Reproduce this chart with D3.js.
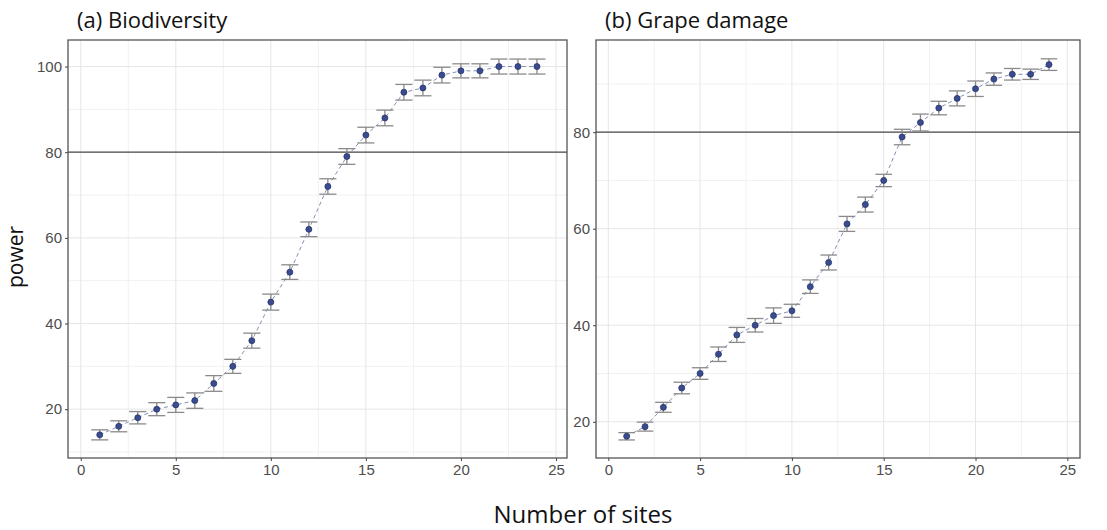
<!DOCTYPE html>
<html>
<head>
<meta charset="utf-8">
<script src="https://cdn.jsdelivr.net/npm/d3@7"></script>
<style>
  html, body { margin: 0; padding: 0; background: #fff; }
  svg { display: block; }
</style>
</head>
<body>
<svg id="chart" width="1107" height="530"></svg>
<script>
// Number of sites (shared by both panels)
const sites = d3.range(1, 25);

// (a) Biodiversity: estimated power and error half-width
const bioPower = [14, 16, 18, 20, 21, 22, 26, 30, 36, 45, 52, 62, 72, 79, 84, 88, 94, 95, 98, 99, 99, 100, 100, 100];
const bioErr   = [1.17, 1.28, 1.44, 1.52, 1.75, 1.8, 1.83, 1.64, 1.75, 1.87, 1.71, 1.71, 1.8, 1.83, 1.83, 1.83, 1.83, 1.83, 1.83, 1.64, 1.64, 1.75, 1.75, 1.75];

// (b) Grape damage: estimated power and error half-width
const grapePower = [17, 19, 23, 27, 30, 34, 38, 40, 42, 43, 48, 53, 61, 65, 70, 79, 82, 85, 87, 89, 91, 92, 92, 94];
const grapeErr   = [0.76, 0.93, 1.03, 1.2, 1.2, 1.5, 1.55, 1.4, 1.6, 1.35, 1.4, 1.55, 1.55, 1.55, 1.28, 1.6, 1.75, 1.4, 1.55, 1.6, 1.28, 1.2, 1.07, 1.2];

// Axis ticks
const xTicks = [0, 5, 10, 15, 20, 25];
const xMinor = [2.5, 7.5, 12.5, 17.5, 22.5];
const bioTicks = [20, 40, 60, 80, 100];
const bioMinor = [10, 30, 50, 70, 90];
const grapeTicks = [20, 40, 60, 80];
const grapeMinor = [30, 50, 70, 90];

const threshold = 80;

const svg = d3.select("#chart");

const TEXT_FONT = "'Open Sans', 'Noto Sans', sans-serif";
const TICK_FONT = "'Liberation Sans', Arial, sans-serif";

function drawPanel(opt) {
  const { left, right, top, bottom, xDomain, yDomain, power, err, title, yTicks, yMinor } = opt;
  const x = d3.scaleLinear().domain(xDomain).range([left, right]);
  const y = d3.scaleLinear().domain(yDomain).range([bottom, top]);
  const g = svg.append("g");

  // grid lines (minor then major)
  const grid = g.append("g").attr("fill", "none");
  grid.selectAll(".vminor").data(xMinor).join("line")
    .attr("x1", d => x(d)).attr("x2", d => x(d)).attr("y1", top).attr("y2", bottom)
    .attr("stroke", "#f1f1f1").attr("stroke-width", 1);
  grid.selectAll(".hminor").data(yMinor).join("line")
    .attr("y1", d => y(d)).attr("y2", d => y(d)).attr("x1", left).attr("x2", right)
    .attr("stroke", "#f1f1f1").attr("stroke-width", 1);
  grid.selectAll(".vmajor").data(xTicks).join("line")
    .attr("x1", d => x(d)).attr("x2", d => x(d)).attr("y1", top).attr("y2", bottom)
    .attr("stroke", "#e6e6e6").attr("stroke-width", 1);
  grid.selectAll(".hmajor").data(yTicks).join("line")
    .attr("y1", d => y(d)).attr("y2", d => y(d)).attr("x1", left).attr("x2", right)
    .attr("stroke", "#e6e6e6").attr("stroke-width", 1);

  // 80% power reference line
  g.append("line")
    .attr("x1", left).attr("x2", right)
    .attr("y1", y(threshold)).attr("y2", y(threshold))
    .attr("stroke", "#4a4a4a").attr("stroke-width", 1.3);

  const pts = sites.map((s, i) => ({ s, p: power[i], e: err[i] }));

  // dashed connecting line
  g.append("path").datum(pts)
    .attr("fill", "none")
    .attr("stroke", "#8390b4")
    .attr("stroke-width", 1)
    .attr("stroke-dasharray", "4,3")
    .attr("d", d3.line().x(d => x(d.s)).y(d => y(d.p)));

  // error bars
  const capHalf = 0.45;
  const eb = g.append("g").attr("stroke", "#8a8a8a").attr("stroke-width", 1.3);
  eb.selectAll(".stem").data(pts).join("line")
    .attr("x1", d => x(d.s)).attr("x2", d => x(d.s))
    .attr("y1", d => y(d.p - d.e)).attr("y2", d => y(d.p + d.e));
  eb.selectAll(".capTop").data(pts).join("line")
    .attr("x1", d => x(d.s - capHalf)).attr("x2", d => x(d.s + capHalf))
    .attr("y1", d => y(d.p + d.e)).attr("y2", d => y(d.p + d.e));
  eb.selectAll(".capBot").data(pts).join("line")
    .attr("x1", d => x(d.s - capHalf)).attr("x2", d => x(d.s + capHalf))
    .attr("y1", d => y(d.p - d.e)).attr("y2", d => y(d.p - d.e));

  // points
  g.append("g").selectAll("circle").data(pts).join("circle")
    .attr("cx", d => x(d.s)).attr("cy", d => y(d.p))
    .attr("r", 3)
    .attr("fill", "#3a4c8f")
    .attr("stroke", "#27356b")
    .attr("stroke-width", 0.8);

  // panel border
  g.append("rect")
    .attr("x", left).attr("y", top)
    .attr("width", right - left).attr("height", bottom - top)
    .attr("fill", "none").attr("stroke", "#555").attr("stroke-width", 1.3);

  // axes
  const xAxis = d3.axisBottom(x).tickValues(xTicks).tickSize(3).tickPadding(3).tickFormat(d3.format("d"));
  const yAxis = d3.axisLeft(y).tickValues(yTicks).tickSize(3).tickPadding(3).tickFormat(d3.format("d"));
  const gx = g.append("g").attr("transform", `translate(0,${bottom})`).call(xAxis);
  const gy = g.append("g").attr("transform", `translate(${left},0)`).call(yAxis);
  [gx, gy].forEach(a => {
    a.select(".domain").remove();
    a.selectAll(".tick line").attr("stroke", "#444");
    a.selectAll(".tick text")
      .attr("fill", "#4d4d4d")
      .style("font-family", TICK_FONT)
      .style("font-size", "15px");
  });

  // panel title
  g.append("text")
    .attr("x", left + 9).attr("y", top - 12)
    .style("font-family", TEXT_FONT)
    .style("font-size", "22px")
    .attr("fill", "#111")
    .text(title);
}

drawPanel({
  left: 68, right: 567, top: 40, bottom: 458,
  xDomain: [-0.67, 25.58], yDomain: [8.6, 106.2],
  power: bioPower, err: bioErr,
  title: "(a) Biodiversity",
  yTicks: bioTicks, yMinor: bioMinor
});

drawPanel({
  left: 596, right: 1080, top: 40, bottom: 458,
  xDomain: [-0.67, 25.69], yDomain: [12.5, 99.1],
  power: grapePower, err: grapeErr,
  title: "(b) Grape damage",
  yTicks: grapeTicks, yMinor: grapeMinor
});

// shared axis titles
svg.append("text")
  .attr("transform", "translate(23,257) rotate(-90)")
  .attr("text-anchor", "middle")
  .style("font-family", TEXT_FONT)
  .style("font-size", "21px")
  .attr("fill", "#111")
  .text("power");

svg.append("text")
  .attr("x", 583).attr("y", 523)
  .attr("text-anchor", "middle")
  .style("font-family", TEXT_FONT)
  .style("font-size", "24px")
  .attr("fill", "#111")
  .text("Number of sites");
</script>
</body>
</html>
